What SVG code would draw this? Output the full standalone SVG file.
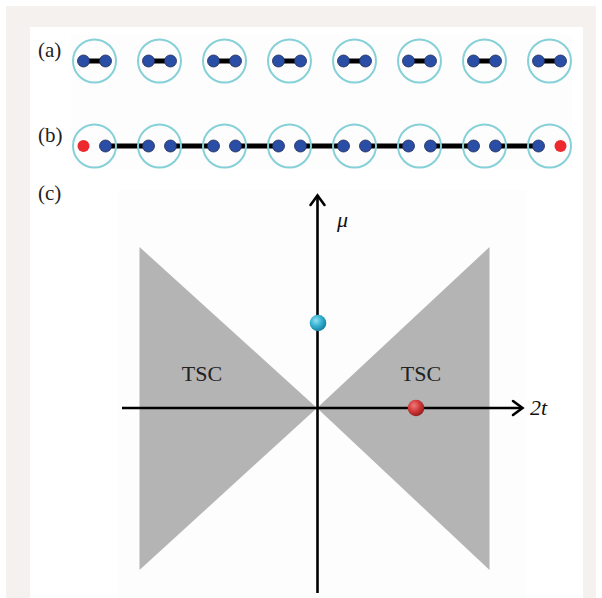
<svg xmlns="http://www.w3.org/2000/svg" width="602" height="598" viewBox="0 0 602 598">
<style>
.ring{fill:none;stroke:#86d0d8;stroke-width:2}
.blue{fill:#2a4ea6;stroke:#1d2a55;stroke-width:0.8}
.red{fill:#ec2a2e}
.bond{stroke:#000;stroke-width:5}
.axis{stroke:#000;stroke-width:2.6;fill:none}
.head{stroke:#000;stroke-width:2.6;fill:none;stroke-linecap:round;stroke-linejoin:miter}
.lbl{font-family:"Liberation Serif","Times New Roman",serif;font-size:21px;fill:#222}
.tsc{font-family:"Liberation Serif","Times New Roman",serif;font-size:22px;fill:#222;text-anchor:middle}
.ital{font-family:"Liberation Serif","Times New Roman",serif;font-size:22px;font-style:italic;fill:#111}
.tri{fill:#b4b4b4}
</style>
<defs>
<radialGradient id="gcyan" cx="0.38" cy="0.35" r="0.7">
<stop offset="0" stop-color="#8fe0f0"/><stop offset="0.5" stop-color="#35b0d0"/><stop offset="1" stop-color="#137a98"/>
</radialGradient>
<radialGradient id="gred" cx="0.38" cy="0.35" r="0.7">
<stop offset="0" stop-color="#f07a7a"/><stop offset="0.5" stop-color="#d03a3a"/><stop offset="1" stop-color="#901818"/>
</radialGradient>
<filter id="soft" x="-5%" y="-5%" width="110%" height="110%"><feGaussianBlur stdDeviation="0.6"/></filter>
</defs>
<rect x="0" y="0" width="602" height="598" fill="#ffffff"/>
<rect x="6" y="6" width="590" height="592" fill="#f5f1ee"/>
<rect x="30" y="27" width="553" height="571" fill="#ffffff"/>
<rect x="71" y="35" width="501" height="134" fill="#fdfdfd"/>
<rect x="118" y="190" width="408" height="408" fill="#fdfdfd"/>

<text class="lbl" x="38" y="57">(a)</text>
<text class="lbl" x="38" y="142">(b)</text>
<text class="lbl" x="38" y="200">(c)</text>

<g id="connectors">
<g id="bonds-a">
<line class="bond" x1="83.5" y1="61" x2="105.5" y2="61"/>
<line class="bond" x1="148.5" y1="61" x2="170.5" y2="61"/>
<line class="bond" x1="213.5" y1="61" x2="235.5" y2="61"/>
<line class="bond" x1="278.5" y1="61" x2="300.5" y2="61"/>
<line class="bond" x1="343.5" y1="61" x2="365.5" y2="61"/>
<line class="bond" x1="408.5" y1="61" x2="430.5" y2="61"/>
<line class="bond" x1="473.5" y1="61" x2="495.5" y2="61"/>
<line class="bond" x1="538.5" y1="61" x2="560.5" y2="61"/>
</g>
<g id="bonds-b">
<line class="bond" x1="105.5" y1="146" x2="148.5" y2="146"/>
<line class="bond" x1="170.5" y1="146" x2="213.5" y2="146"/>
<line class="bond" x1="235.5" y1="146" x2="278.5" y2="146"/>
<line class="bond" x1="300.5" y1="146" x2="343.5" y2="146"/>
<line class="bond" x1="365.5" y1="146" x2="408.5" y2="146"/>
<line class="bond" x1="430.5" y1="146" x2="473.5" y2="146"/>
<line class="bond" x1="495.5" y1="146" x2="538.5" y2="146"/>
</g>
</g>

<g id="row-a">
<g id="a1"><circle class="ring" cx="94.5" cy="61" r="21.5"/><circle class="blue" cx="83.5" cy="61" r="6"/><circle class="blue" cx="105.5" cy="61" r="6"/></g>
<g id="a2"><circle class="ring" cx="159.5" cy="61" r="21.5"/><circle class="blue" cx="148.5" cy="61" r="6"/><circle class="blue" cx="170.5" cy="61" r="6"/></g>
<g id="a3"><circle class="ring" cx="224.5" cy="61" r="21.5"/><circle class="blue" cx="213.5" cy="61" r="6"/><circle class="blue" cx="235.5" cy="61" r="6"/></g>
<g id="a4"><circle class="ring" cx="289.5" cy="61" r="21.5"/><circle class="blue" cx="278.5" cy="61" r="6"/><circle class="blue" cx="300.5" cy="61" r="6"/></g>
<g id="a5"><circle class="ring" cx="354.5" cy="61" r="21.5"/><circle class="blue" cx="343.5" cy="61" r="6"/><circle class="blue" cx="365.5" cy="61" r="6"/></g>
<g id="a6"><circle class="ring" cx="419.5" cy="61" r="21.5"/><circle class="blue" cx="408.5" cy="61" r="6"/><circle class="blue" cx="430.5" cy="61" r="6"/></g>
<g id="a7"><circle class="ring" cx="484.5" cy="61" r="21.5"/><circle class="blue" cx="473.5" cy="61" r="6"/><circle class="blue" cx="495.5" cy="61" r="6"/></g>
<g id="a8"><circle class="ring" cx="549.5" cy="61" r="21.5"/><circle class="blue" cx="538.5" cy="61" r="6"/><circle class="blue" cx="560.5" cy="61" r="6"/></g>
</g>

<g id="row-b">
<g id="b1"><circle class="ring" cx="94.5" cy="146" r="21.5"/><circle class="red" cx="83.5" cy="146" r="6"/><circle class="blue" cx="105.5" cy="146" r="6"/></g>
<g id="b2"><circle class="ring" cx="159.5" cy="146" r="21.5"/><circle class="blue" cx="148.5" cy="146" r="6"/><circle class="blue" cx="170.5" cy="146" r="6"/></g>
<g id="b3"><circle class="ring" cx="224.5" cy="146" r="21.5"/><circle class="blue" cx="213.5" cy="146" r="6"/><circle class="blue" cx="235.5" cy="146" r="6"/></g>
<g id="b4"><circle class="ring" cx="289.5" cy="146" r="21.5"/><circle class="blue" cx="278.5" cy="146" r="6"/><circle class="blue" cx="300.5" cy="146" r="6"/></g>
<g id="b5"><circle class="ring" cx="354.5" cy="146" r="21.5"/><circle class="blue" cx="343.5" cy="146" r="6"/><circle class="blue" cx="365.5" cy="146" r="6"/></g>
<g id="b6"><circle class="ring" cx="419.5" cy="146" r="21.5"/><circle class="blue" cx="408.5" cy="146" r="6"/><circle class="blue" cx="430.5" cy="146" r="6"/></g>
<g id="b7"><circle class="ring" cx="484.5" cy="146" r="21.5"/><circle class="blue" cx="473.5" cy="146" r="6"/><circle class="blue" cx="495.5" cy="146" r="6"/></g>
<g id="b8"><circle class="ring" cx="549.5" cy="146" r="21.5"/><circle class="blue" cx="538.5" cy="146" r="6"/><circle class="red" cx="560.5" cy="146" r="6"/></g>
</g>

<g id="phase-diagram">
<g id="tsc-left"><polygon class="tri" filter="url(#soft)" points="139.5,247 317,408 139.5,570"/><text class="tsc" x="202" y="381">TSC</text></g>
<g id="tsc-right"><polygon class="tri" filter="url(#soft)" points="489.5,247 317,408 489.5,570"/><text class="tsc" x="421" y="381">TSC</text></g>
<g id="axes">
<line class="axis" x1="122" y1="408" x2="522" y2="408"/>
<path class="head" d="M513,401 L522.5,408 L513,415"/>
<line class="axis" x1="317.5" y1="593" x2="317.5" y2="196"/>
<path class="head" d="M310.5,205 L317.5,195.5 L324.5,205"/>
<text class="ital" x="337" y="227">μ</text>
<text class="ital" x="530" y="415">2t</text>
</g>
<g id="point-cyan"><circle cx="318" cy="323" r="8.3" fill="url(#gcyan)"/></g>
<g id="point-red"><circle cx="416" cy="408" r="8.3" fill="url(#gred)"/></g>
</g>
</svg>
